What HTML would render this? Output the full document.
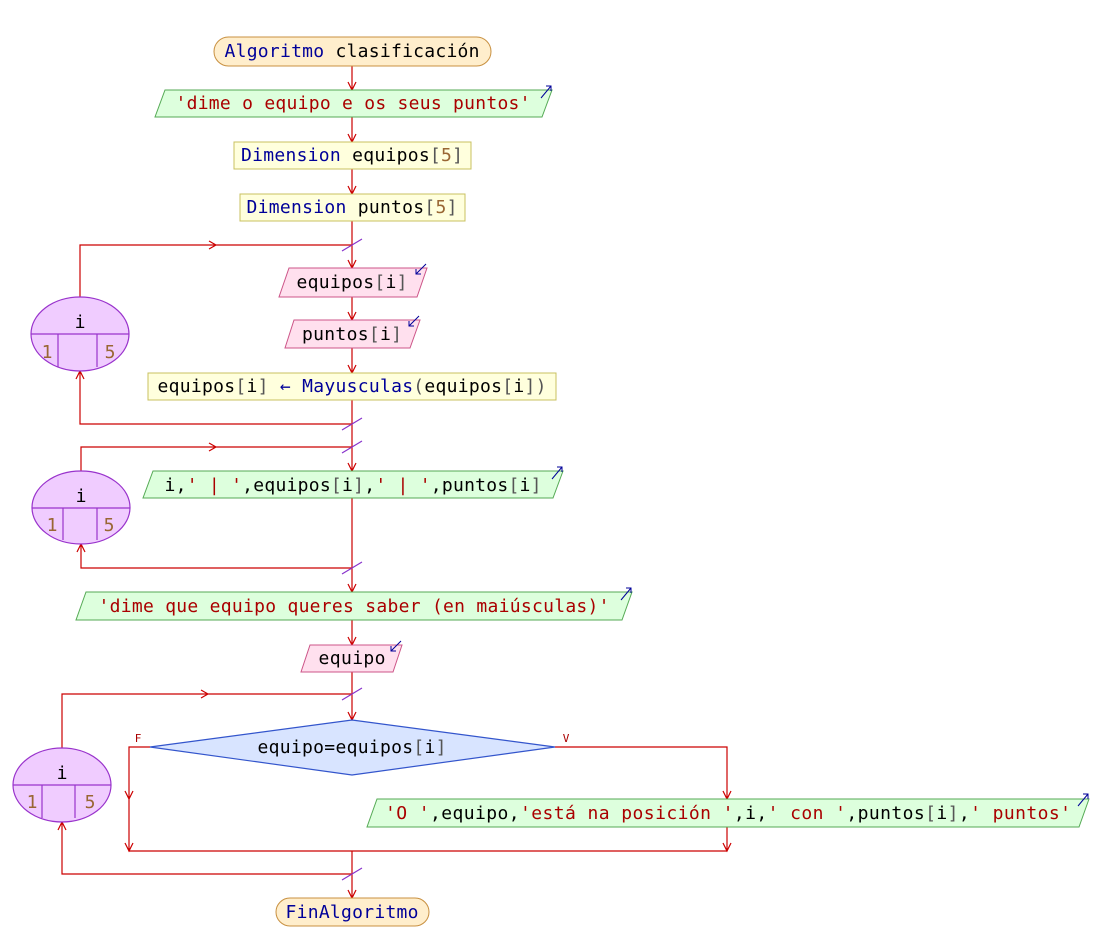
<!DOCTYPE html>
<html><head><meta charset="utf-8"><style>
html,body{margin:0;padding:0;background:#fff;}
svg{display:block;}
text{font-family:"DejaVu Sans Mono","Liberation Mono",monospace;font-size:18px;fill:#000;}
.k{fill:#000099}.s{fill:#aa0000}.n{fill:#996633}.g{fill:#555}
.ln{stroke:#cc0000;stroke-width:1.2;fill:none}
.sl{stroke:#8833cc;stroke-width:1.2}
.ic{stroke:#000099;stroke-width:1;fill:none}
</style></head><body>
<svg width="1109" height="937" viewBox="0 0 1109 937" xmlns="http://www.w3.org/2000/svg">
<path class="ln" d="M352 66V90 M352 117V142 M352 169V194 M352 221V268 M352 297V320 M352 348V373 M352 400V471 M352 498V592 M352 620V645 M352 672V720 M352 851V898"/>
<path class="ln" d="M348 82L352 90L356 82 M348 134L352 142L356 134 M348 186L352 194L356 186 M348 260L352 268L356 260 M348 312L352 320L356 312 M348 365L352 373L356 365 M348 463L352 471L356 463 M348 584L352 592L356 584 M348 637L352 645L356 637 M348 712L352 720L356 712 M348 890L352 898L356 890"/>
<path class="ln" d="M80 297V245H352 M209 241L216 245L209 249 M80 371V424H352 M76 379L80 371L84 379"/>
<path class="sl" d="M342 251L362 239 M342 430L362 418"/>
<path class="ln" d="M81 471V447H352 M209 443L216 447L209 451 M81 544V568H352 M77 552L81 544L85 552"/>
<path class="sl" d="M342 453L362 441 M342 574L362 562"/>
<path class="ln" d="M62 748V694H352 M201 690L208 694L201 698 M62 822V874H352 M58 830L62 822L66 830"/>
<path class="sl" d="M342 700L362 688 M342 880L362 868"/>
<path class="ln" d="M150 747H129V851H727 M125 791L129 799L133 791 M125 843L129 851L133 843 M555 747H727V799 M723 791L727 799L731 791 M727 827V851 M723 843L727 851L731 843"/>

<rect x="214" y="37" width="277" height="29" rx="14.5" fill="#ffeecc" stroke="#c89040"/>
<text x="352" y="57" text-anchor="middle" textLength="255" lengthAdjust="spacing"><tspan class="k">Algoritmo</tspan> clasificación</text>

<polygon points="165,90 552,90 542,117 155,117" fill="#ddffdd" stroke="#55aa55"/>
<text x="353" y="109" text-anchor="middle" textLength="355" lengthAdjust="spacing" class="s">'dime o equipo e os seus puntos'</text>
<path class="ic" d="M541 98L551 86 M546 86H551V91"/>

<rect x="234" y="142" width="237" height="27" fill="#ffffdd" stroke="#c8c060"/>
<text x="352" y="161" text-anchor="middle" textLength="222" lengthAdjust="spacing"><tspan class="k">Dimension</tspan> equipos<tspan class="g">[</tspan><tspan class="n">5</tspan><tspan class="g">]</tspan></text>
<rect x="240" y="194" width="225" height="27" fill="#ffffdd" stroke="#c8c060"/>
<text x="352" y="213" text-anchor="middle" textLength="211" lengthAdjust="spacing"><tspan class="k">Dimension</tspan> puntos<tspan class="g">[</tspan><tspan class="n">5</tspan><tspan class="g">]</tspan></text>

<polygon points="289,268 427,268 417,297 279,297" fill="#ffe0ee" stroke="#cc5588"/>
<text x="352" y="288" text-anchor="middle" textLength="111" lengthAdjust="spacing">equipos<tspan class="g">[</tspan>i<tspan class="g">]</tspan></text>
<path class="ic" d="M426 264L416 274 M416 269V274H421"/>
<polygon points="294,320 420,320 410,348 285,348" fill="#ffe0ee" stroke="#cc5588"/>
<text x="352" y="340" text-anchor="middle" textLength="100" lengthAdjust="spacing">puntos<tspan class="g">[</tspan>i<tspan class="g">]</tspan></text>
<path class="ic" d="M419 316L409 326 M409 321V326H414"/>

<rect x="148" y="373" width="408" height="27" fill="#ffffdd" stroke="#c8c060"/>
<text x="352" y="392" text-anchor="middle" textLength="389" lengthAdjust="spacing">equipos<tspan class="g">[</tspan>i<tspan class="g">]</tspan> <tspan class="k">←</tspan> <tspan class="k">Mayusculas</tspan><tspan class="g">(</tspan>equipos<tspan class="g">[</tspan>i<tspan class="g">])</tspan></text>

<g fill="#f0ccff" stroke="#9933cc" stroke-width="1.2">
<ellipse cx="80" cy="334" rx="49" ry="37"/>
<ellipse cx="81" cy="507.5" rx="49" ry="36.5"/>
<ellipse cx="62" cy="785" rx="49" ry="37"/>
</g>
<path stroke="#9933cc" stroke-width="1.2" d="M31 334H129 M58 334V367 M97 334V367 M32 508H130 M63 508V540 M97 508V540 M13 785H111 M42 785V818 M75 785V818"/>
<text x="80" y="328" text-anchor="middle">i</text>
<text x="47" y="358" text-anchor="middle" class="n">1</text>
<text x="110" y="358" text-anchor="middle" class="n">5</text>
<text x="81" y="502" text-anchor="middle">i</text>
<text x="52" y="531" text-anchor="middle" class="n">1</text>
<text x="109" y="531" text-anchor="middle" class="n">5</text>
<text x="62" y="779" text-anchor="middle">i</text>
<text x="32" y="808" text-anchor="middle" class="n">1</text>
<text x="90" y="808" text-anchor="middle" class="n">5</text>

<polygon points="153,471 563,471 553,498 143,498" fill="#ddffdd" stroke="#55aa55"/>
<text x="353" y="491" text-anchor="middle" textLength="377" lengthAdjust="spacing">i,<tspan class="s">' | '</tspan>,equipos<tspan class="g">[</tspan>i<tspan class="g">]</tspan>,<tspan class="s">' | '</tspan>,puntos<tspan class="g">[</tspan>i<tspan class="g">]</tspan></text>
<path class="ic" d="M552 479L562 467 M557 467H562V472"/>

<polygon points="86,592 632,592 622,620 76,620" fill="#ddffdd" stroke="#55aa55"/>
<text x="354" y="612" text-anchor="middle" textLength="511" lengthAdjust="spacing" class="s">'dime que equipo queres saber (en maiúsculas)'</text>
<path class="ic" d="M621 600L631 588 M626 588H631V593"/>

<polygon points="310,645 402,645 393,672 301,672" fill="#ffe0ee" stroke="#cc5588"/>
<text x="352" y="664" text-anchor="middle" textLength="67" lengthAdjust="spacing">equipo</text>
<path class="ic" d="M401 641L391 651 M391 646V651H396"/>

<polygon points="352,720 555,747 352,775 150,747" fill="#d8e4ff" stroke="#3355cc" stroke-width="1.2"/>
<text x="352" y="753" text-anchor="middle" textLength="189" lengthAdjust="spacing">equipo=equipos<tspan class="g">[</tspan>i<tspan class="g">]</tspan></text>
<text x="138" y="742" text-anchor="middle" class="s" style="font-size:11px">F</text>
<text x="566" y="742" text-anchor="middle" class="s" style="font-size:11px">V</text>

<polygon points="377,799 1089,799 1079,827 367,827" fill="#ddffdd" stroke="#55aa55"/>
<text x="728" y="819" text-anchor="middle" textLength="686" lengthAdjust="spacing"><tspan class="s">'O '</tspan>,equipo,<tspan class="s">'está na posición '</tspan>,i,<tspan class="s">' con '</tspan>,puntos<tspan class="g">[</tspan>i<tspan class="g">]</tspan>,<tspan class="s">' puntos'</tspan></text>
<path class="ic" d="M1078 806L1088 794 M1083 794H1088V799"/>

<rect x="276" y="898" width="153" height="28" rx="14" fill="#ffeecc" stroke="#c89040"/>
<text x="352" y="918" text-anchor="middle" textLength="133" lengthAdjust="spacing" class="k">FinAlgoritmo</text>
</svg>
</body></html>
